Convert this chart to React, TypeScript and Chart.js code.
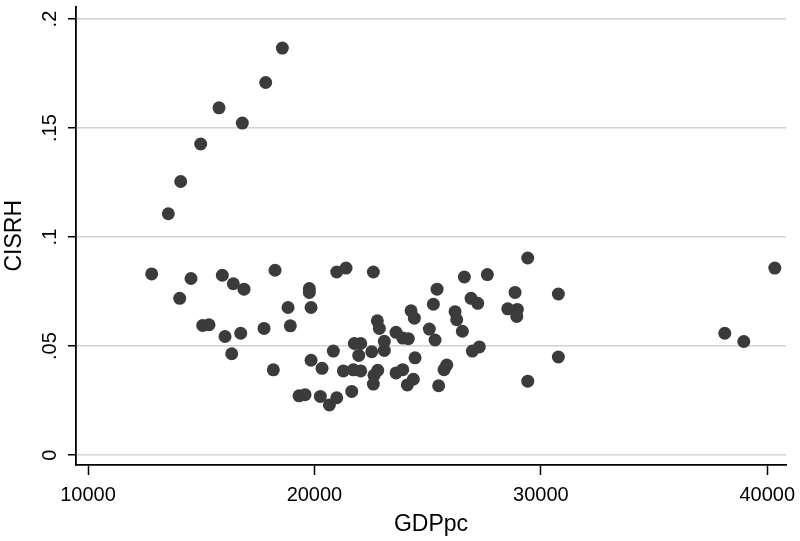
import React, { useEffect, useRef } from "react";
import { Chart, registerables } from "chart.js";

Chart.register(...registerables);

// GDP per capita (x) and CISRH (y)
const gdppc: number[] = [
  13547, 14094, 14977, 15786, 16816, 17848, 18583,
  12813, 14549, 14050, 15932, 16418, 16890, 18260, 20985, 21396, 22602,
  19775, 19775, 18834, 19850, 15066, 15345, 16051, 16744, 17774, 18935,
  16347, 18185, 19850, 20336, 20835, 19320, 19585, 20261, 20985, 20660,
  21647, 21277, 21719, 22045, 21762, 22045, 21957, 22531, 23087, 23087,
  22778, 22866, 22796, 22632, 22602, 23604, 23900, 24147, 24267, 24413,
  24443, 23604, 23900, 24103, 24368,
  29420, 26621, 27637, 28860, 30773, 25415, 25252, 26917, 27212, 26210,
  26285, 28538, 28962, 28935, 25075, 26533, 25327, 25486, 25724, 25844,
  26974, 27283, 30773, 29420,
  38122, 38962, 40331,
];
const cisrh: number[] = [
  0.1107, 0.1255, 0.1427, 0.1593, 0.1523, 0.1709, 0.1867,
  0.0831, 0.081, 0.0719, 0.0825, 0.0786, 0.0761, 0.0848, 0.084, 0.0858, 0.084,
  0.0764, 0.0746, 0.0677, 0.0677, 0.0595, 0.0598, 0.0544, 0.0559, 0.0581, 0.0593,
  0.0465, 0.0391, 0.0435, 0.0398, 0.0477, 0.0272, 0.0277, 0.0269, 0.0263, 0.023,
  0.0292, 0.0386, 0.0391, 0.0386, 0.0512, 0.0512, 0.0457, 0.0474, 0.0522, 0.048,
  0.0616, 0.0581, 0.0389, 0.0366, 0.0326, 0.0563, 0.0537, 0.0534, 0.0662, 0.0628,
  0.0446, 0.0377, 0.0392, 0.0322, 0.0348,
  0.0904, 0.0817, 0.0828, 0.0746, 0.0739, 0.0761, 0.0692, 0.0719, 0.0696, 0.0658,
  0.0621, 0.0671, 0.0668, 0.0636, 0.0578, 0.0568, 0.0528, 0.0318, 0.0392, 0.0413,
  0.0477, 0.0496, 0.045, 0.0339,
  0.0559, 0.0521, 0.0858,
];

const xTicks: number[] = [10000, 20000, 30000, 40000];
const xTickLabels: string[] = ["10000", "20000", "30000", "40000"];
const yTicks: number[] = [0, 0.05, 0.1, 0.15, 0.2];
const yTickLabels: string[] = ["0", ".05", ".1", ".15", ".2"];
const xTitle = "GDPpc";
const yTitle = "CISRH";

const FONT = "'Liberation Sans', Arial, Helvetica, sans-serif";

export default function App() {
  const canvasRef = useRef<HTMLCanvasElement | null>(null);

  useEffect(() => {
    const canvas = canvasRef.current;
    if (!canvas) return;
    const points = gdppc.map((x, i) => ({ x, y: cisrh[i] }));
    const chart = new Chart(canvas, {
      type: "scatter",
      data: {
        datasets: [
          {
            data: points,
            pointRadius: 6.5,
            pointHoverRadius: 6.5,
            backgroundColor: "#3b3b3b",
            borderWidth: 0,
          },
        ],
      },
      options: {
        animation: false,
        responsive: false,
        maintainAspectRatio: false,
        devicePixelRatio: 1,
        layout: { padding: { top: 2, right: 14, left: 0, bottom: 0 } },
        plugins: {
          legend: { display: false },
          tooltip: { enabled: false },
        },
        events: [],
        scales: {
          x: {
            type: "linear",
            min: 9470,
            max: 40826,
            afterBuildTicks: (s: any) => {
              s.ticks = xTicks.map((v) => ({ value: v }));
            },
            afterFit: (s: any) => {
              s.height = 76;
              s.paddingLeft = 0;
              s.paddingRight = 0;
            },
            ticks: {
              autoSkip: false,
              maxRotation: 0,
              minRotation: 0,
              padding: 8,
              color: "#000",
              font: { family: FONT, size: 20 },
              callback: (v: any) => {
                const i = xTicks.indexOf(Number(v));
                return i >= 0 ? xTickLabels[i] : "";
              },
            },
            grid: {
              drawOnChartArea: false,
              drawTicks: true,
              tickLength: 10,
              tickColor: "#000",
              tickWidth: 1.5,
            },
            border: { display: true, color: "#000", width: 1.8 },
            title: {
              display: true,
              text: xTitle,
              color: "#000",
              font: { family: FONT, size: 23 },
              padding: { top: 0, bottom: 3 },
            },
          },
          y: {
            type: "linear",
            min: -0.00454,
            max: 0.20577,
            afterBuildTicks: (s: any) => {
              s.ticks = yTicks.map((v) => ({ value: v }));
            },
            afterFit: (s: any) => {
              s.width = 76;
              s.paddingTop = 0;
              s.paddingBottom = 0;
            },
            ticks: {
              autoSkip: false,
              minRotation: 90,
              maxRotation: 90,
              crossAlign: "center",
              padding: 4,
              color: "#000",
              font: { family: FONT, size: 20 },
              callback: (v: any) => {
                const i = yTicks.findIndex((t) => Math.abs(t - Number(v)) < 1e-9);
                return i >= 0 ? yTickLabels[i] : "";
              },
            },
            grid: {
              drawOnChartArea: true,
              color: "#d2d2d2",
              lineWidth: 1.5,
              drawTicks: true,
              tickLength: 8,
              tickColor: "#000",
              tickWidth: 1.5,
            },
            border: { display: true, color: "#000", width: 1.8 },
            title: {
              display: true,
              text: yTitle,
              color: "#000",
              font: { family: FONT, size: 23 },
              padding: { top: 1, bottom: 0 },
            },
          },
        },
      },
    } as any);
    return () => chart.destroy();
  }, []);

  return (
    <div style={{ position: "fixed", left: 0, top: 0, width: 800, height: 541, background: "#fff" }}>
      <canvas ref={canvasRef} width={800} height={541} style={{ display: "block", width: 800, height: 541 }} />
    </div>
  );
}
